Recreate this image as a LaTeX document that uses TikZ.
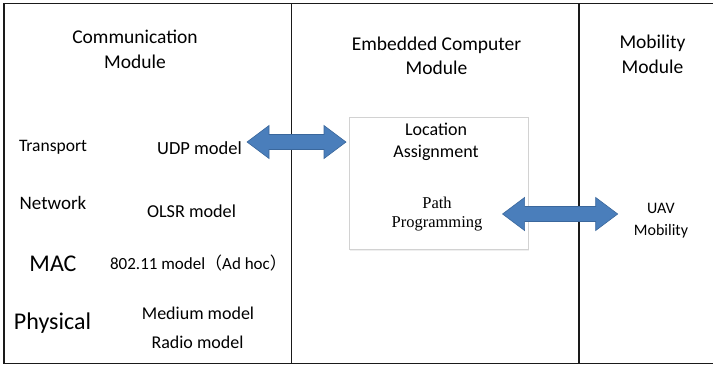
\documentclass[tikz,border=0pt]{standalone}
\usepackage{fontspec}
\setmainfont{Carlito}
\newfontfamily\serifface{Liberation Serif}
\newfontfamily\cjk{Noto Sans CJK SC}
\usetikzlibrary{calc,shadows}

\definecolor{framecol}{HTML}{1A1A1A}
\definecolor{arrowfill}{HTML}{4A7EBB}
\definecolor{arrowline}{HTML}{3A679C}
\definecolor{boxline}{HTML}{D2D2D2}

\tikzset{
  frame/.style={draw=framecol, line width=1.7pt},
  lbl/.style={inner sep=0pt, text=black, align=center},
  innerbox/.style={draw=boxline, line width=1pt, fill=white,
    drop shadow={opacity=0.12, shadow xshift=1pt, shadow yshift=-1pt}},
  fatarrow/.style={fill=arrowfill, draw=arrowline, line width=0.6pt, line join=miter},
}

% double-headed block arrow between two named points on one horizontal line
\newcommand\blockarrow[2]{%
  \path[fatarrow] (#1) -- ++(22,-16.5) -- ++(0,9) -- ($(#2)+(-22,-7.5)$)
    -- ++(0,-9) -- (#2) -- ++(-22,16.5) -- ++(0,-9) -- ($(#1)+(22,7.5)$)
    -- ++(0,9) -- cycle;}

\begin{document}
\begin{tikzpicture}[x=1pt, y=-1pt]
\useasboundingbox (0,0) rectangle (713,367);
\fill[white] (0,0) rectangle (713,367);

% outer frame and column dividers
\draw[frame] (716,3.5) -- (4,3.5) -- (4,363.5) -- (716,363.5);
\draw[frame] (291.5,3.5) -- (291.5,363.5);
\draw[frame] (579,3.5) -- (579,363.5);

% column titles
\node[lbl, font=\fontsize{19.5}{25}\selectfont] (comm) at (135,49) {Communication\\Module};
\node[lbl, font=\fontsize{19.5}{24}\selectfont] (emb) at (436.5,55.5) {Embedded Computer\\Module};
\node[lbl, font=\fontsize{19.5}{25}\selectfont] (mob) at (652.5,54.5) {Mobility\\Module};

% protocol layers
\node[lbl, font=\fontsize{17.5}{20}\selectfont] (transport) at (53,147) {Transport};
\node[lbl, font=\fontsize{19}{22}\selectfont] (network) at (53,203) {Network};
\node[lbl, font=\fontsize{24}{28}\selectfont] (mac) at (53,264) {MAC};
\node[lbl, font=\fontsize{24}{28}\selectfont] (phy) at (52.5,323) {Physical};

% layer models
\node[lbl, font=\fontsize{18.5}{22}\selectfont] (udp) at (199.5,148) {UDP model};
\node[lbl, font=\fontsize{18.2}{22}\selectfont] (olsr) at (191.5,211) {OLSR model};
\node[lbl, font=\fontsize{17}{22}\selectfont] (wifi) at (198.5,263) {802.11 model{\cjk （}Ad hoc{\cjk ）}};
\node[lbl, font=\fontsize{18}{22}\selectfont] (medium) at (198,313) {Medium model};
\node[lbl, font=\fontsize{18}{22}\selectfont] (radio) at (197.5,342) {Radio model};

% embedded computer block
\path[innerbox] (349,117.5) rectangle (528,249.5);
\node[lbl, font=\fontsize{18}{22}\selectfont] (loc) at (436,141.5) {Location\\Assignment};
\node[lbl, font=\serifface\fontsize{16.5}{19}\selectfont] (path) at (437,214) {Path\\Programming};

% mobility block
\node[lbl, font=\fontsize{16}{22}\selectfont] (uav) at (661,220.5) {UAV\\Mobility};

% data exchange arrows
\coordinate (a1l) at ($(udp.east)+(5,-6)$);
\coordinate (a1r) at (346,142);
\coordinate (a2l) at ($(path.east)+(20,0)$);
\coordinate (a2r) at ($(uav.west)+(-16,0)$);
\blockarrow{a1l}{a1r}
\path let \p1=(a2l), \p2=(a2r) in coordinate (a2rr) at (\x2,\y1);
\blockarrow{a2l}{a2rr}
\end{tikzpicture}
\end{document}
